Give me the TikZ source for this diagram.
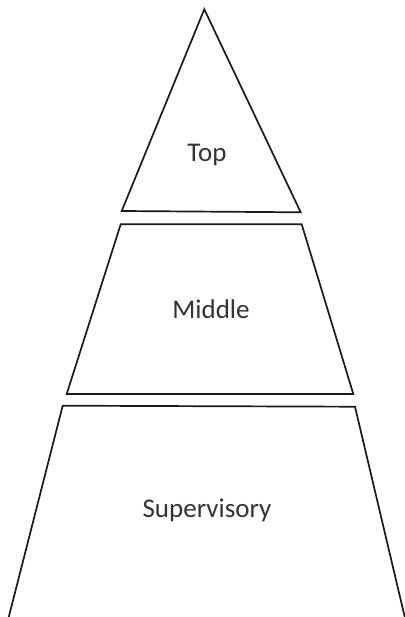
\documentclass[tikz,border=0pt]{standalone}
\usepackage{fontspec}
\setmainfont{Carlito}
\definecolor{ink}{HTML}{1A1A1A}
\definecolor{txt}{HTML}{333333}
\begin{document}
\begin{tikzpicture}[x=1pt,y=-1pt,
  level/.style={draw=ink,line width=1.7pt,line join=miter},
  lbl/.style={text=txt,font=\fontsize{27}{30}\selectfont,anchor=base,inner sep=0pt}]
\useasboundingbox[fill=white] (0,0) rectangle (404,617);
% Top triangle
\draw[level] (204.3,9.3) -- (300.7,212.3) -- (121.7,211) -- cycle;
% Middle trapezoid
\draw[level] (120.7,224.3) -- (301.7,224.3) -- (353.3,394) -- (66.7,394) -- cycle;
% Supervisory trapezoid
\draw[level] (62.7,405.7) -- (355,406.7) -- (405,618) -- (8.5,618) -- cycle;
\node[lbl] (top) at (207,162) {Top};
\node[lbl] (middle) at (211,318) {Middle};
\node[lbl] (sup) at (207,517.7) {Supervisory};
\end{tikzpicture}
\end{document}
